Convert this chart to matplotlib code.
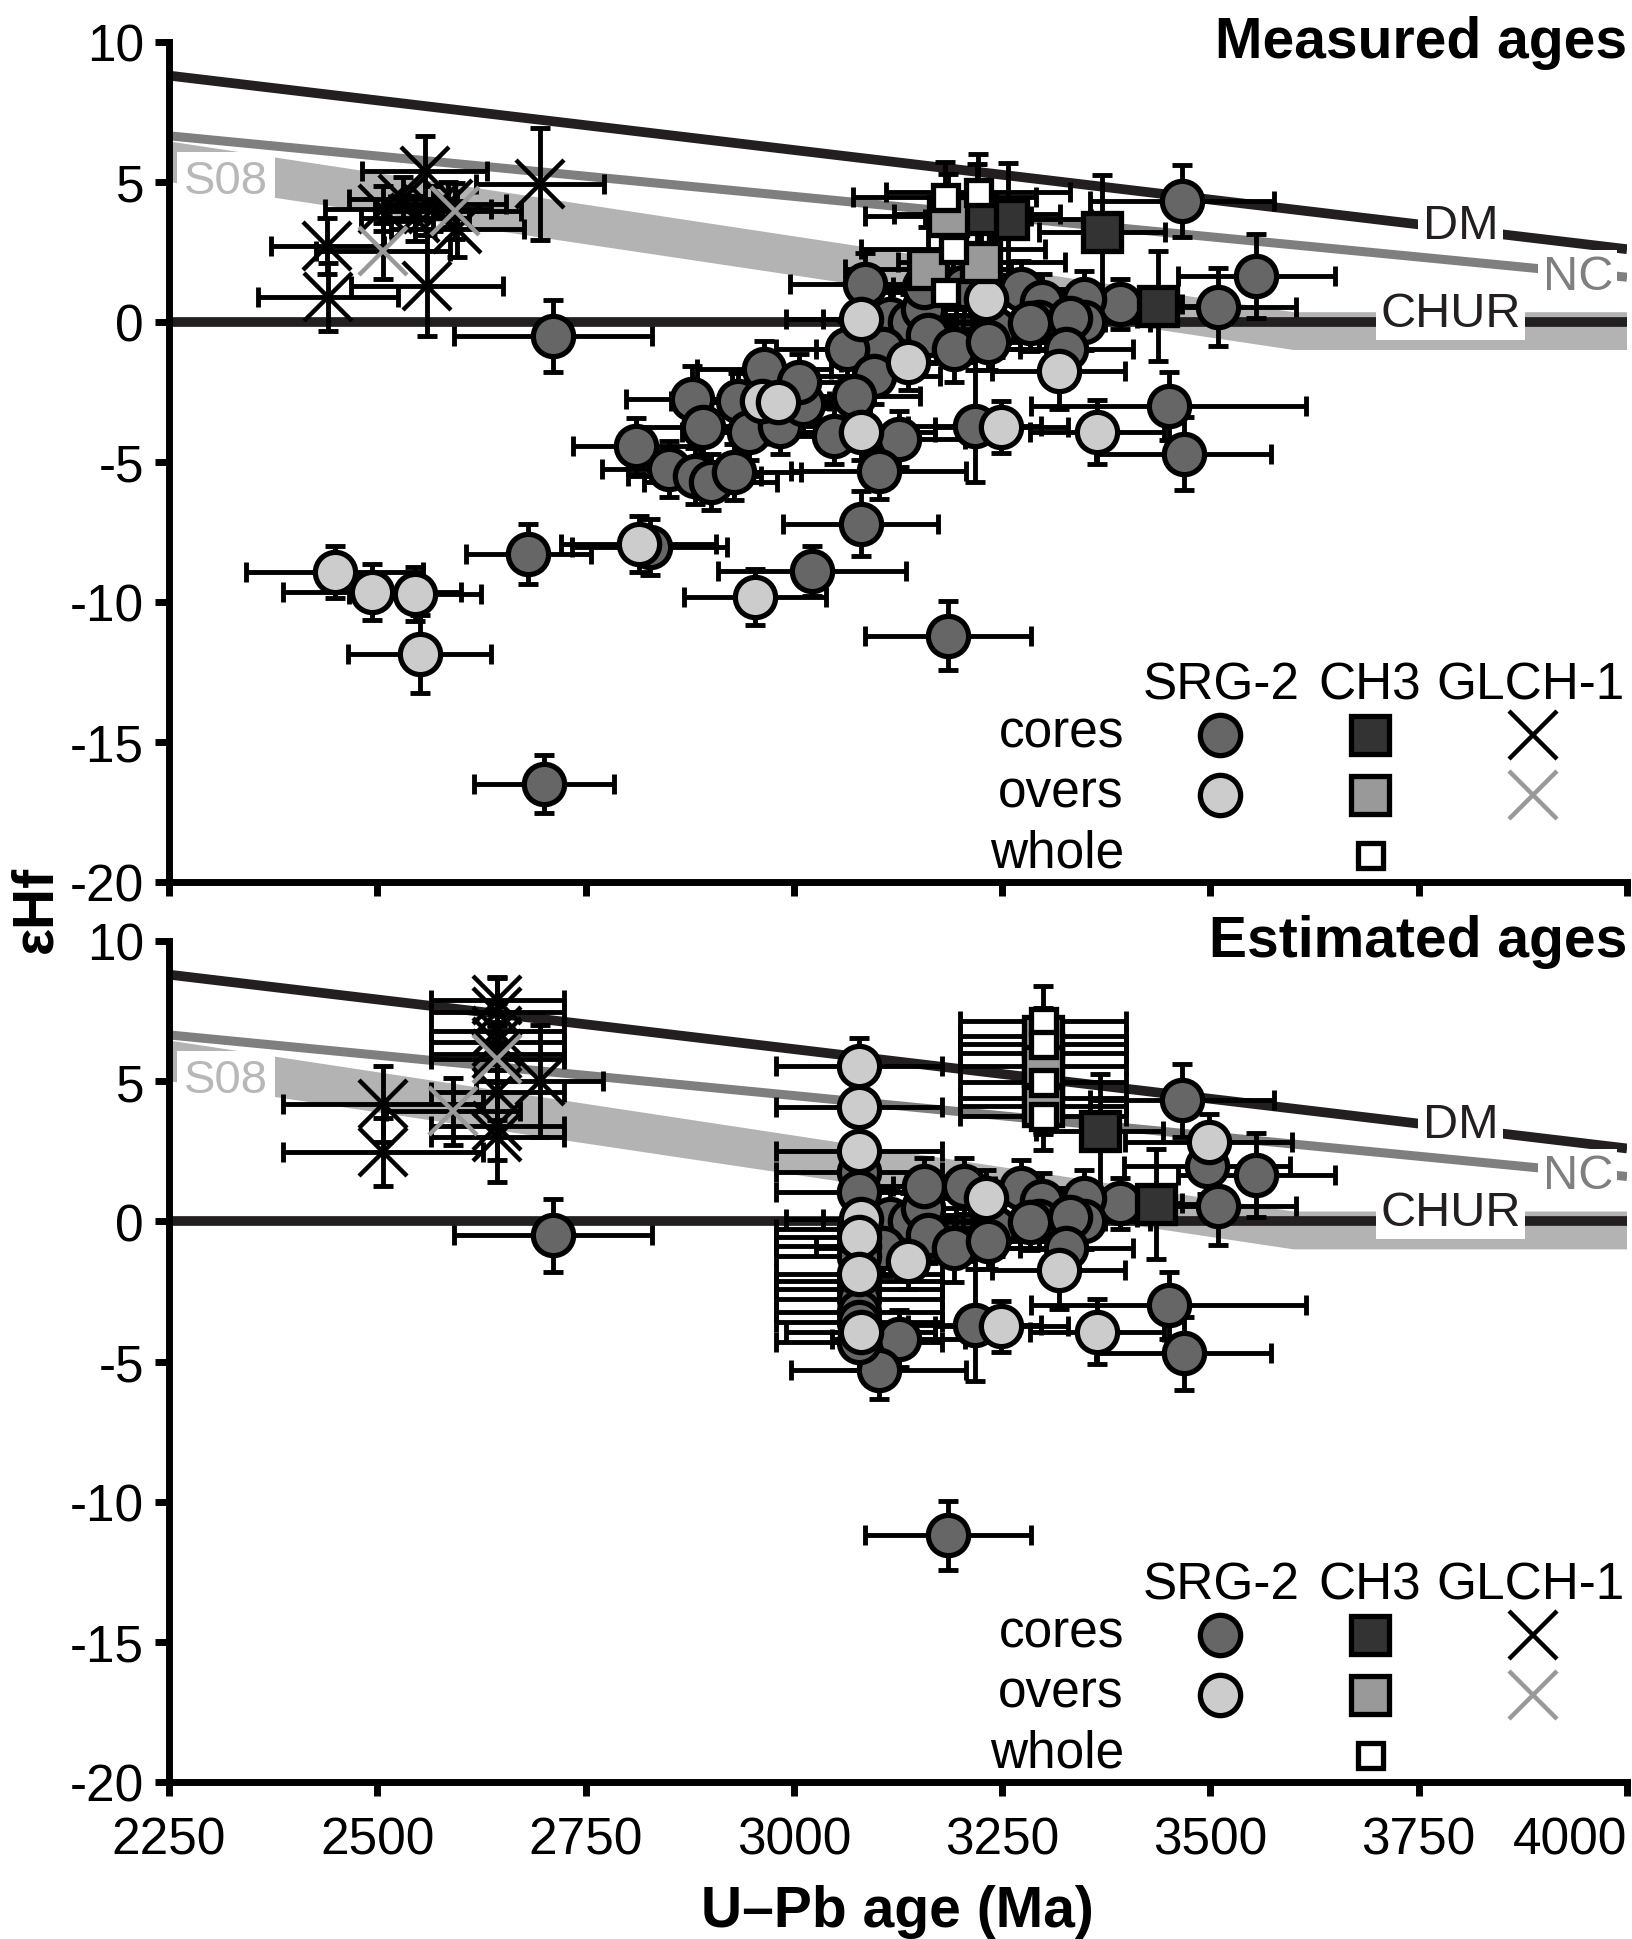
import numpy as np
import matplotlib
matplotlib.use("Agg")
import matplotlib.pyplot as plt
from matplotlib.patches import Polygon

plt.rcParams['font.family'] = ['Liberation Sans', 'DejaVu Sans']
plt.rcParams['axes.unicode_minus'] = False

# reference evolution lines (age in Ma, eHf)
dm_age, dm_ehf = [2250, 4000], [8.8, 2.6]
nc_age, nc_ehf = [2250, 4000], [6.65, 1.6]
chur_age, chur_ehf = [2250, 4000], [0.0, 0.0]
s08_upper = [[2250, 6.45], [3600, 0.35], [4000, 0.35]]
s08_lower = [[4000, -1.0], [3600, -1.0], [2250, 5.0]]

# columns: age (Ma), eHf, age error, eHf error
# SRG-2 spots plotted at the same age in both panels
srg_cores_both = np.array([
    [3466, 4.32, 110, 1.3], [3555, 1.64, 94, 1.5], [3509, 0.54, 94, 1.4],
    [3391, 0.64, 75, 0.9], [3115, 0.10, 80, 1.0], [3139, 0.00, 80, 1.0],
    [3107, -0.96, 80, 1.0], [3155, 0.46, 80, 1.0], [3156, 1.26, 85, 1.0],
    [3204, 1.26, 85, 1.0], [3161, -0.48, 80, 1.0], [3192, -0.96, 80, 1.2],
    [3241, -0.25, 80, 1.0], [3233, -0.71, 80, 1.0], [3273, 1.18, 80, 1.0],
    [3298, 0.71, 80, 1.0], [3294, 0.00, 80, 1.0], [3283, -0.04, 80, 1.0],
    [3348, 0.82, 80, 1.0], [3348, 0.00, 80, 1.0], [3332, 0.14, 80, 1.0],
    [3327, -0.96, 80, 1.0], [3450, -3.00, 165, 1.2], [3468, -4.70, 105, 1.3],
    [3217, -3.71, 80, 2.0], [3126, -4.18, 80, 1.0], [3102, -5.32, 105, 1.0],
    [3185, -11.20, 100, 1.22], [2711, -0.50, 119, 1.3],
])
srg_overs_both = np.array([
    [3080, 0.10, 90, 1.0], [3137, -1.43, 80, 1.0], [3231, 0.82, 80, 1.0],
    [3318, -1.75, 80, 1.36], [3364, -3.93, 80, 1.15], [3249, -3.75, 80, 0.92],
    [3080, -3.93, 90, 1.0],
])

# measured ages only
srg_cores_meas = np.array([
    [3085, 1.36, 90, 1.1], [3064, -0.96, 85, 1.0], [3096, -1.93, 80, 1.0],
    [3072, -2.64, 80, 1.0], [3080, -7.20, 93, 1.15], [3048, -4.07, 80, 1.0],
    [2811, -4.43, 76, 1.0], [2850, -5.25, 80, 1.0], [2878, -2.75, 80, 1.17],
    [2891, -3.75, 80, 1.0], [2881, -5.50, 80, 1.0], [2900, -5.71, 80, 1.0],
    [2928, -5.36, 80, 1.0], [2933, -2.82, 80, 1.0], [2946, -3.93, 80, 1.0],
    [2964, -1.68, 80, 1.0], [2983, -3.71, 80, 1.0], [3011, -2.93, 80, 1.0],
    [3006, -2.14, 80, 1.0], [2827, -8.04, 93, 1.0], [3022, -8.89, 113, 0.9],
    [2681, -8.29, 75, 1.07], [2700, -16.50, 84, 1.03],
])
srg_overs_meas = np.array([
    [2962, -2.82, 80, 1.0], [2981, -2.86, 80, 1.0], [2814, -7.93, 93, 1.0],
    [2953, -9.82, 85, 1.0], [2449, -8.93, 106, 0.93], [2494, -9.64, 107, 1.0],
    [2545, -9.71, 79, 0.96], [2551, -11.86, 86, 1.4],
])
ch3_cores_meas = np.array([
    [3257, 3.68, 100, 2.0], [3220, 3.86, 100, 1.8], [3370, 3.21, 76, 2.05],
    [3437, 0.57, 80, 1.95],
])
ch3_overs_meas = np.array([
    [3185, 3.80, 100, 1.5], [3161, 1.89, 100, 1.5], [3225, 2.14, 100, 1.5],
])
ch3_whole_meas = np.array([
    [3181, 4.46, 110, 1.25], [3221, 4.64, 110, 1.36], [3191, 2.61, 110, 1.2],
    [3181, 1.07, 110, 1.2],
])
glch_cores_meas = np.array([
    [2695, 4.93, 77, 2.0], [2557, 5.39, 75, 1.25], [2440, 2.71, 68, 1.0],
    [2441, 0.89, 84, 1.2], [2560, 1.29, 91, 1.8], [2596, 3.32, 80, 1.0],
    [2531, 4.39, 65, 0.8], [2507, 4.04, 70, 0.8], [2567, 4.04, 70, 0.8],
    [2545, 3.70, 65, 0.8], [2585, 4.20, 70, 0.8],
])
glch_overs_meas = np.array([[2507, 2.54, 80, 1.0], [2593, 3.96, 80, 1.0]])

# estimated ages only
srg_cores_est = np.array([
    [3078, 1.76, 100, 1.0], [3078, 1.05, 100, 1.0], [3078, -0.27, 100, 1.0],
    [3078, -0.88, 100, 1.0], [3078, -1.24, 100, 1.0], [3078, -2.13, 100, 1.0],
    [3078, -2.41, 100, 1.0], [3078, -2.77, 100, 1.0], [3078, -3.24, 100, 1.0],
    [3078, -3.59, 100, 1.0], [3078, -4.31, 100, 1.0], [3496, 1.97, 100, 1.0],
])
srg_overs_est = np.array([
    [3078, 5.54, 100, 1.0], [3078, 4.08, 100, 1.0], [3078, 2.51, 100, 1.0],
    [3078, -0.56, 100, 1.0], [3078, -1.88, 100, 1.0], [3498, 2.83, 100, 1.0],
])
ch3_cores_est = np.array([
    [3299, 6.00, 100, 1.2], [3299, 4.40, 100, 1.2], [3367, 3.22, 76, 2.05],
    [3435, 0.62, 80, 1.95],
])
ch3_overs_est = np.array([[3299, 6.60, 100, 1.0], [3299, 5.55, 100, 1.0], [3299, 4.10, 100, 1.0]])
ch3_whole_est = np.array([
    [3299, 7.15, 100, 1.25], [3299, 6.33, 100, 1.0], [3299, 4.97, 100, 1.0],
    [3299, 3.76, 100, 1.2],
])
glch_cores_est = np.array([
    [2695, 5.00, 76, 2.0], [2507, 4.18, 120, 1.36], [2507, 2.47, 120, 1.2],
    [2644, 7.90, 80, 0.8], [2644, 7.47, 80, 1.2], [2644, 6.80, 80, 1.0],
    [2644, 6.40, 80, 1.0], [2644, 5.97, 80, 1.0], [2644, 4.60, 80, 1.0],
    [2644, 3.40, 80, 1.2], [2644, 3.00, 80, 1.6],
])
glch_overs_est = np.array([[2591, 3.93, 80, 1.2], [2644, 5.80, 80, 1.2]])

STYLE = {
    'srg_core': dict(marker='o', ms=29, mfc='#666666', mec='black', mew=3.8),
    'srg_over': dict(marker='o', ms=29, mfc='#cccccc', mec='black', mew=3.8),
    'ch3_core': dict(marker='s', ms=27, mfc='#333333', mec='black', mew=3.8),
    'ch3_over': dict(marker='s', ms=27, mfc='#999999', mec='black', mew=3.8),
    'ch3_whole': dict(marker='s', ms=18, mfc='white', mec='black', mew=3.8),
    'glch_core': dict(marker='x', ms=34, mec='black', mew=3.2),
    'glch_over': dict(marker='x', ms=34, mec='#999999', mew=3.2),
}

FS = 37
KEY_FS = 37
LINE_FS = 35


def plot_group(ax, rows, key):
    if len(rows) == 0:
        return
    ax.errorbar(rows[:, 0], rows[:, 1], xerr=rows[:, 2], yerr=rows[:, 3],
                fmt='none', ecolor='black', elinewidth=3.5, capsize=7, capthick=3.5, zorder=5)
    ax.plot(rows[:, 0], rows[:, 1], ls='none', zorder=6, **STYLE[key])


def draw_panel(ax, groups, title, xlabels):
    ax.set_xlim(2250, 4000)
    ax.set_ylim(-20, 10)
    for side in ['top', 'right']:
        ax.spines[side].set_visible(False)
    for side in ['left', 'bottom']:
        ax.spines[side].set_linewidth(5)
        ax.spines[side].set_zorder(4)
    ax.set_xticks(np.arange(2250, 4001, 250))
    ax.set_yticks(np.arange(-20, 11, 5))
    ax.tick_params(length=10, width=5, labelsize=FS, pad=8)
    ax.tick_params(axis='x', pad=14)
    if not xlabels:
        ax.set_xticklabels([])
    else:
        # last label sits flush with the right end of the axis
        ax.get_xticklabels()[-1].set_horizontalalignment('right')

    # S08 band and evolution lines
    band = Polygon(s08_upper + s08_lower, closed=True, facecolor='#b3b3b3',
                   edgecolor='none', zorder=1)
    ax.add_patch(band)
    ax.plot(nc_age, nc_ehf, color='#7f7f7f', lw=6.5, zorder=2, solid_capstyle='butt')
    ax.plot(dm_age, dm_ehf, color='#231f20', lw=7, zorder=2, solid_capstyle='butt')
    ax.plot(chur_age, chur_ehf, color='#231f20', lw=7, zorder=2, solid_capstyle='butt')

    box = dict(facecolor='white', edgecolor='none', pad=3)
    ax.text(2318, 5.05, 'S08', color='#b8b8b8', fontsize=34, ha='center', va='center',
            bbox=dict(facecolor='white', edgecolor='none', pad=5), zorder=3)
    ax.text(3800, 3.45, 'DM', color='#231f20', fontsize=LINE_FS, ha='center', va='center',
            bbox=box, zorder=3)
    ax.text(3941, 1.62, 'NC', color='#7f7f7f', fontsize=LINE_FS, ha='center', va='center',
            bbox=box, zorder=3)
    ax.text(3788, 0.32, 'CHUR', color='#231f20', fontsize=LINE_FS, ha='center', va='center',
            bbox=box, zorder=3)

    for rows, key in groups:
        plot_group(ax, rows, key)

    ax.text(1.0, 1.0, title, transform=ax.transAxes, fontsize=41, fontweight='bold',
            ha='right', va='center')

    # key
    tr = ax.transAxes
    ax.text(0.7215, 0.218, 'SRG-2', transform=tr, fontsize=KEY_FS, ha='center', va='baseline')
    ax.text(0.8235, 0.218, 'CH3', transform=tr, fontsize=KEY_FS, ha='center', va='baseline')
    ax.text(0.934, 0.218, 'GLCH-1', transform=tr, fontsize=KEY_FS, ha='center', va='baseline')
    rows_y = [0.175, 0.1036, 0.032]
    for y, lab in zip(rows_y, ['cores', 'overs', 'whole']):
        ax.text(0.655, y - 0.014, lab, transform=tr, fontsize=KEY_FS, ha='right', va='baseline')
    ax.plot([0.721], [rows_y[0]], transform=tr, clip_on=False, **STYLE['srg_core'])
    ax.plot([0.721], [rows_y[1]], transform=tr, clip_on=False, **STYLE['srg_over'])
    ax.plot([0.824], [rows_y[0]], transform=tr, clip_on=False, **STYLE['ch3_core'])
    ax.plot([0.824], [rows_y[1]], transform=tr, clip_on=False, **STYLE['ch3_over'])
    ax.plot([0.824], [rows_y[2]], transform=tr, clip_on=False, **STYLE['ch3_whole'])
    ax.plot([0.9355], [rows_y[0]], transform=tr, clip_on=False, **STYLE['glch_core'])
    ax.plot([0.9355], [rows_y[1]], transform=tr, clip_on=False, **STYLE['glch_over'])


fig = plt.figure(figsize=(16.32, 19.40), dpi=100)
ax_top = fig.add_axes([169 / 1632, 1 - 883 / 1940, 1458 / 1632, 840 / 1940])
ax_bot = fig.add_axes([169 / 1632, 1 - 1783 / 1940, 1458 / 1632, 841 / 1940])

top_groups = [
    (np.vstack([srg_cores_both, srg_cores_meas]), 'srg_core'),
    (np.vstack([srg_overs_both, srg_overs_meas]), 'srg_over'),
    (ch3_cores_meas, 'ch3_core'),
    (ch3_overs_meas, 'ch3_over'),
    (ch3_whole_meas, 'ch3_whole'),
    (glch_cores_meas, 'glch_core'),
    (glch_overs_meas, 'glch_over'),
]
bot_groups = [
    (np.vstack([srg_cores_both, srg_cores_est]), 'srg_core'),
    (np.vstack([srg_overs_both, srg_overs_est]), 'srg_over'),
    (ch3_cores_est, 'ch3_core'),
    (ch3_overs_est, 'ch3_over'),
    (ch3_whole_est, 'ch3_whole'),
    (glch_cores_est, 'glch_core'),
    (glch_overs_est, 'glch_over'),
]

draw_panel(ax_top, top_groups, 'Measured ages', xlabels=False)
draw_panel(ax_bot, bot_groups, 'Estimated ages', xlabels=True)

fig.text(897 / 1632, 1 - 1912 / 1940, 'U\u2013Pb age (Ma)', fontsize=41, fontweight='bold',
         ha='center', va='center')
fig.text(36 / 1632, 1 - 909 / 1940, '\u03b5Hf', fontsize=41, fontweight='bold',
         rotation=90, ha='center', va='center')

fig.savefig('out.png', dpi=100)
